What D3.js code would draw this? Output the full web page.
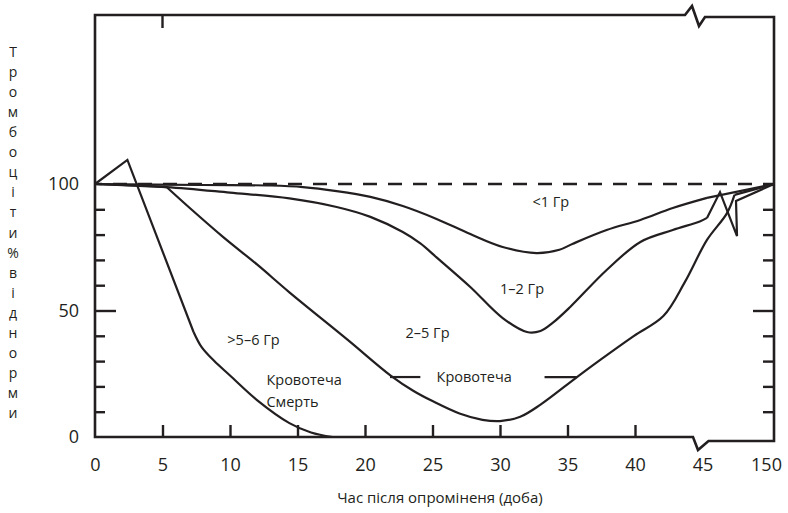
<!DOCTYPE html>
<html>
<head>
<meta charset="utf-8">
<script src="https://cdn.jsdelivr.net/npm/d3@7"></script>
<style>
    body { margin: 0; background: #fff; }
    svg text { font-family: "Open Sans", "Noto Sans", sans-serif; fill: #231f20; }
</style>
</head>
<body>
<svg id="chart" width="788" height="513"></svg>
<script>
"use strict";

// ---- data (days after exposure, platelets % of norm) ----
var xTicks = [0, 5, 10, 15, 20, 25, 30, 35, 40, 45, 150];
var xInnerTicks = [5, 10, 15, 20, 25, 30, 35, 40];
var yLabels = [0, 50, 100];
var yInnerTicks = [10, 20, 30, 40, 50, 60, 70, 80, 90];
var yTitle = "Тромбоціти % від норми";
var xTitle = "Час після опроміненя (доба)";

// < 1 Gy
var doseLow = [[0, 100], [8, 99.6], [13, 99.4], [15.4, 98.8], [17.9, 97.2], [20.4, 94.9],
    [22.8, 91.3], [25.3, 86.2], [27.8, 80.2], [30.2, 75.1], [32.7, 72.7], [34.4, 74.0],
    [35.4, 76.4], [37.9, 81.8], [40.4, 85.8], [42.8, 90.5], [51.6, 94.5]];
var doseLowTail = [[51.6, 94.5], [150, 100]];

// 1-2 Gy
var doseMid = [[0, 100], [5.3, 98.8], [10, 96.6], [14.4, 94.3], [17.9, 90.9], [20.4, 87.0],
    [22.8, 81.0], [24.1, 76.5], [25.3, 71.0], [27.8, 59.3], [30.2, 47.0], [32.0, 41.5],
    [33.0, 41.9], [33.9, 45.1], [35.2, 51.4], [37.9, 66.0], [40.4, 77.1], [42.8, 81.8],
    [44.8, 85.2], [51.6, 86.6]];
var doseMidTail = [[51.6, 86.6], [70.7, 96.8], [95.7, 79.4], [94.2, 93.3], [150, 100]];

// 2-5 Gy
var doseHigh = [[0, 100], [5.3, 98.8]];
var doseHighCurve = [[5.3, 98.8], [7.0, 90.6], [9.5, 79.0], [12.0, 68.2], [14.4, 57.2],
    [18.7, 38.5], [21.9, 24.3], [23.6, 18.2], [25.0, 14.2], [27.0, 9.3], [28.7, 6.8],
    [30.0, 6.3], [31.5, 8.0], [33.0, 12.8], [35.7, 23.7], [37.4, 30.4], [39.9, 39.9],
    [42.1, 47.8], [43.7, 61.3], [51.6, 77.9], [81.0, 88.5], [92.0, 95.7]];
var doseHighTail = [[92.0, 95.7], [150, 100]];

// > 5-6 Gy
var doseLethal = [[0, 100], [2.4, 109.5], [7.3, 41.5]];
var doseLethalCurve = [[7.3, 41.5], [7.9, 35.5], [8.8, 30.2], [10.0, 24.3], [12.0, 14.6],
    [14.4, 5.5], [16.0, 1.8], [17.6, 0]];

// bleeding marker (2-5 Gy)
var bleedLeft = [[21.85, 23.7], [24.1, 23.7]];
var bleedRight = [[33.3, 23.7], [35.7, 23.7]];

var noteTexts = ["<1 Гр", "1–2 Гр", "2–5 Гр", ">5–6 Гр", "Кровотеча", "Смерть", "Кровотеча"];

// ---- scales ----
var ink = "#231f20";
var svg = d3.select("#chart");

var x = d3.scaleLinear().domain([0, 45, 150]).range([95, 702.5, 774]);
var y = d3.scaleLinear().domain([0, 100]).range([437, 184]);
var plotTop = 15;

var smooth = d3.line().x(function(d){ return x(d[0]); }).y(function(d){ return y(d[1]); })
    .curve(d3.curveCatmullRom.alpha(0.5));
var straight = d3.line().x(function(d){ return x(d[0]); }).y(function(d){ return y(d[1]); });

// ---- frame with axis break at 45 ----
var x0 = x(0), xr = x(150), xb = x(45), yb = y(0);
var frame = [[x0, plotTop], [xb - 17.5, plotTop], [xb - 10.5, plotTop - 9], [xb - 3.5, plotTop + 11],
    [xb + 2.5, plotTop + 2], [xr, plotTop + 2], [xr, yb + 4], [xb + 6, yb + 4],
    [xb - 4.5, yb + 13], [xb - 9.5, yb], [x0, yb]];
svg.append("path")
    .attr("d", d3.line()(frame) + "Z")
    .attr("fill", "none").attr("stroke", ink).attr("stroke-width", 2.6)
    .attr("stroke-linejoin", "miter");

// top tick at day 5
svg.append("line")
    .attr("x1", x(5)).attr("x2", x(5)).attr("y1", plotTop).attr("y2", plotTop + 13)
    .attr("stroke", ink).attr("stroke-width", 2.4);

// ---- inner ticks ----
var bottomTicks = svg.append("g").attr("transform", "translate(0," + yb + ")")
    .call(d3.axisTop(x).tickValues(xInnerTicks).tickSize(12).tickFormat(""));
var leftTicks = svg.append("g").attr("transform", "translate(" + x0 + ",0)")
    .call(d3.axisRight(y).tickValues(yInnerTicks).tickSize(10).tickFormat(""));
var rightTicks = svg.append("g").attr("transform", "translate(" + xr + ",0)")
    .call(d3.axisLeft(y).tickValues(yInnerTicks).tickSize(11).tickFormat(""));

leftTicks.selectAll(".tick line").filter(function(d){ return d === 50; }).attr("x2", 21);
rightTicks.selectAll(".tick line").filter(function(d){ return d === 50; }).attr("x2", -21);

[bottomTicks, leftTicks, rightTicks].forEach(function(g){
    g.select(".domain").remove();
    g.selectAll(".tick line").attr("stroke", ink).attr("stroke-width", 2.4);
});

// ---- tick labels ----
var xLab = svg.append("g").attr("transform", "translate(0," + yb + ")")
    .call(d3.axisBottom(x).tickValues(xTicks).tickSize(0).tickPadding(21));
xLab.select(".domain").remove();
xLab.selectAll("text").attr("font-size", 18).attr("font-family", null)
    .attr("dx", function(d){ return d === 150 ? -8 : 0; });

var yLab = svg.append("g").attr("transform", "translate(" + x0 + ",0)")
    .call(d3.axisLeft(y).tickValues(yLabels).tickSize(0).tickPadding(16));
yLab.select(".domain").remove();
yLab.selectAll("text").attr("font-size", 18).attr("font-family", null);

// ---- axis titles ----
svg.append("text")
    .attr("x", 440).attr("y", 503)
    .attr("text-anchor", "middle").attr("font-size", 15)
    .text(xTitle);

var letters = yTitle.replace(/ /g, "").split("");
svg.append("g").selectAll("text").data(letters).enter().append("text")
    .attr("x", 13)
    .attr("y", function(d, i){ return 57 + i * 20.06; })
    .attr("text-anchor", "middle").attr("font-size", 14)
    .text(function(d){ return d; });

// ---- normal level ----
svg.append("line")
    .attr("x1", x0).attr("x2", xr).attr("y1", y(100)).attr("y2", y(100))
    .attr("stroke", ink).attr("stroke-width", 2.4)
    .attr("stroke-dasharray", "14,11").attr("stroke-dashoffset", 7);

// ---- curves ----
var curves = svg.append("g").attr("fill", "none").attr("stroke", ink)
    .attr("stroke-width", 2.2).attr("stroke-linejoin", "round");

curves.append("path").attr("d", smooth(doseLow));
curves.append("path").attr("d", straight(doseLowTail));
curves.append("path").attr("d", smooth(doseMid));
curves.append("path").attr("d", straight(doseMidTail)).attr("stroke-linejoin", "miter");
curves.append("path").attr("d", straight(doseHigh));
curves.append("path").attr("d", smooth(doseHighCurve));
curves.append("path").attr("d", straight(doseHighTail));
curves.append("path").attr("d", straight(doseLethal)).attr("stroke-linejoin", "miter");
curves.append("path").attr("d", smooth(doseLethalCurve));
curves.append("path").attr("d", straight(bleedLeft));
curves.append("path").attr("d", straight(bleedRight));

// ---- annotations ----
var noteAnchors = [[32.4, 90.9], [30.0, 56.5], [23.0, 39.1], [9.8, 36.4],
    [12.7, 20.6], [12.7, 11.9], [25.3, 21.7]];
svg.append("g").selectAll("text").data(noteTexts).enter().append("text")
    .attr("x", function(d, i){ return x(noteAnchors[i][0]); })
    .attr("y", function(d, i){ return y(noteAnchors[i][1]); })
    .attr("font-size", 14.5)
    .text(function(d){ return d; });
</script>
</body>
</html>
